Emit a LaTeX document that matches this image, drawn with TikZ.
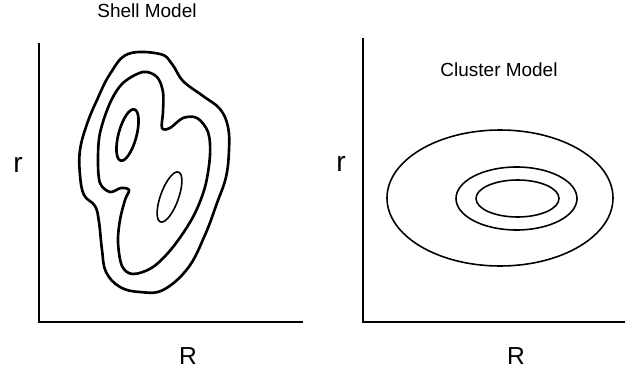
\documentclass[tikz,border=0pt]{standalone}
\usepackage{fontspec}
\setmainfont{Liberation Sans}
\begin{document}
\begin{tikzpicture}[x=0.02cm,y=-0.02cm,
    axis/.style={line width=1.3pt},
    contour/.style={line width=1.5pt,line join=round},
    ring/.style={line width=0.9pt},
    title/.style={font=\fontsize{10.8}{13}\selectfont},
    rlabel/.style={font=\fontsize{16}{18}\selectfont},
    Rlabel/.style={font=\fontsize{14}{16}\selectfont}]
  \useasboundingbox (0,0) rectangle (625,375);
  % shell model
  \node[title] (shelltitle) at (147,11) {Shell Model};
  \coordinate (s0) at (39,322);
  \draw[axis] (39,43) -- (s0) -- (303,322);
  \node[rlabel] (sr) at (18,165) {r};
  \node[Rlabel] (sR) at (188,356) {R};
  \draw[contour] plot[smooth cycle,tension=0.65] coordinates {
    (128,54) (160,54) (172,64) (183,81) (203,96) (220,109) (228,127)
    (229,150) (226,177) (217,203) (205,235) (188,268) (163,290)
    (140,292) (120,287) (106,272) (102,250) (99,222) (95,206)
    (84,195) (80,175) (80,150) (87,124) (97,100) (110,74)};
  \draw[contour] plot[smooth cycle,tension=0.55] coordinates {
    (143,72) (157,77) (163,92) (163,112) (162,128) (170,128)
    (183,118) (197,118) (208,132) (210,155) (205,187) (193,217)
    (173,247) (153,267) (133,274) (122,266) (118,242) (120,220)
    (125,200) (129,190) (121,188) (110,192) (100,183) (98,160)
    (100,133) (110,103) (123,83)};
  \draw[contour] (127.5,135) ellipse[x radius=9,y radius=26.5,rotate=-15];
  \draw[ring] (169.5,197) ellipse[x radius=9,y radius=26.5,rotate=-20];
  % cluster model
  \node[title] (clustertitle) at (499,70) {Cluster Model};
  \coordinate (c0) at (363,322);
  \draw[axis] (363,38) -- (c0) -- (625,322);
  \node[rlabel] (cr) at (341,164) {r};
  \node[Rlabel] (cR) at (516,356) {R};
  \draw[ring] (500,198) ellipse[x radius=113,y radius=68];
  \draw[ring] (516.5,198.5) ellipse[x radius=60.5,y radius=31.5];
  \draw[ring] (517.5,198.5) ellipse[x radius=41.5,y radius=18.5];
\end{tikzpicture}
\end{document}
